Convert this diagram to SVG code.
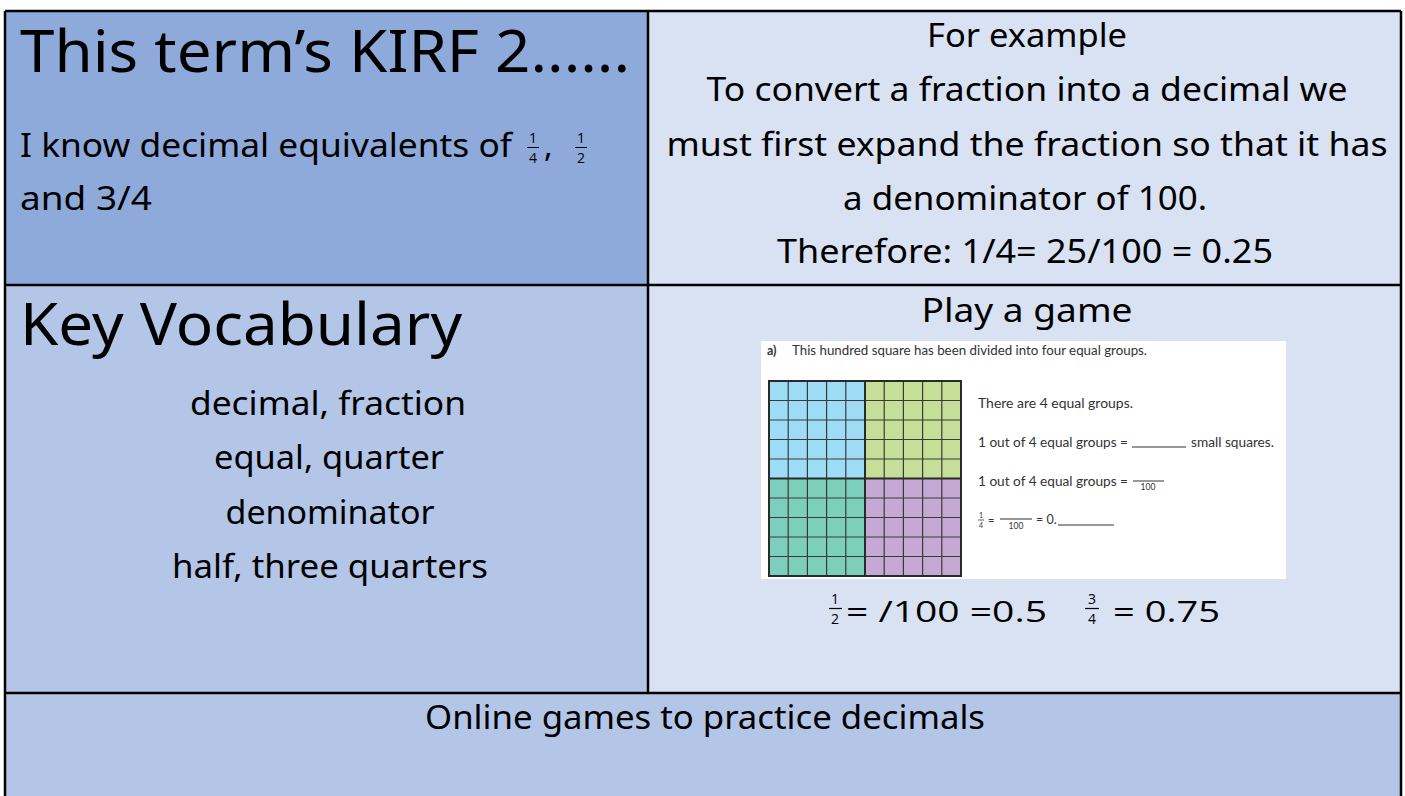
<svg xmlns="http://www.w3.org/2000/svg" width="1405" height="796" viewBox="0 0 1405 796">
  <style>
    .hand { font-family: "Noto Sans", "DejaVu Sans", sans-serif; fill: #000; }
    .sans { font-family: "Open Sans", "Noto Sans", sans-serif; fill: #000; }
    .ws { font-family: "Lato", "Open Sans", sans-serif; fill: #333; }
    .rule { stroke: #000; stroke-width: 2.5; fill: none; }
  </style>
  <rect width="1405" height="796" fill="#ffffff"/>

  <!-- Cell backgrounds -->
  <g id="cell-kirf">
    <rect x="5" y="11" width="643" height="274" fill="#8eaadb"/>
    <text class="hand" x="20" y="72" font-size="58" textLength="610" lengthAdjust="spacingAndGlyphs">This term’s KIRF 2......</text>
    <text class="hand" x="20" y="157" font-size="32" textLength="492" lengthAdjust="spacingAndGlyphs">I know decimal equivalents of</text>
    <!-- stacked quarter -->
    <text class="sans" x="533" y="143" font-size="14" text-anchor="middle">1</text>
    <line x1="527" y1="147.5" x2="539" y2="147.5" stroke="#000" stroke-width="1"/>
    <text class="sans" x="533" y="163" font-size="14" text-anchor="middle">4</text>
    <text class="hand" x="544" y="157" font-size="32">,</text>
    <!-- stacked half -->
    <text class="sans" x="581" y="143" font-size="14" text-anchor="middle">1</text>
    <line x1="575" y1="147.5" x2="587" y2="147.5" stroke="#000" stroke-width="1"/>
    <text class="sans" x="581" y="163" font-size="14" text-anchor="middle">2</text>
    <text class="hand" x="20" y="210" font-size="32" textLength="132" lengthAdjust="spacingAndGlyphs">and 3/4</text>
  </g>

  <g id="cell-example">
    <rect x="648" y="11" width="753" height="274" fill="#d9e2f3"/>
    <text class="hand" x="1027" y="47" font-size="32" text-anchor="middle" textLength="200" lengthAdjust="spacingAndGlyphs">For example</text>
    <text class="hand" x="1027" y="101" font-size="32" text-anchor="middle" textLength="641" lengthAdjust="spacingAndGlyphs">To convert a fraction into a decimal we</text>
    <text class="hand" x="1027" y="156" font-size="32" text-anchor="middle" textLength="721" lengthAdjust="spacingAndGlyphs">must first expand the fraction so that it has</text>
    <text class="hand" x="1025" y="210" font-size="32" text-anchor="middle" textLength="364" lengthAdjust="spacingAndGlyphs">a denominator of 100.</text>
    <text class="hand" x="1025" y="263" font-size="32" text-anchor="middle" textLength="496" lengthAdjust="spacingAndGlyphs">Therefore: 1/4= 25/100 = 0.25</text>
  </g>

  <g id="cell-vocabulary">
    <rect x="5" y="285" width="643" height="408" fill="#b4c6e7"/>
    <text class="hand" x="20" y="345" font-size="58" textLength="442" lengthAdjust="spacingAndGlyphs">Key Vocabulary</text>
    <text class="hand" x="328" y="415" font-size="32" text-anchor="middle" textLength="276" lengthAdjust="spacingAndGlyphs">decimal, fraction</text>
    <text class="hand" x="329" y="469" font-size="32" text-anchor="middle" textLength="230" lengthAdjust="spacingAndGlyphs">equal, quarter</text>
    <text class="hand" x="330" y="524" font-size="32" text-anchor="middle" textLength="209" lengthAdjust="spacingAndGlyphs">denominator</text>
    <text class="hand" x="330" y="578" font-size="32" text-anchor="middle" textLength="316" lengthAdjust="spacingAndGlyphs">half, three quarters</text>
  </g>

  <g id="cell-game">
    <rect x="648" y="285" width="753" height="408" fill="#d9e2f3"/>
    <text class="hand" x="1027" y="322" font-size="32" text-anchor="middle" textLength="211" lengthAdjust="spacingAndGlyphs">Play a game</text>

    <!-- worksheet panel -->
    <g id="worksheet">
      <rect x="761" y="341" width="525" height="238" fill="#ffffff"/>
      <text class="ws" x="767" y="355" font-size="12.5" font-weight="bold">a)</text>
      <text class="ws" x="792" y="355" font-size="12.5" textLength="355" lengthAdjust="spacingAndGlyphs">This hundred square has been divided into four equal groups.</text>

      <!-- hundred square -->
      <rect x="769" y="381" width="96" height="97.5" fill="#9edcf5"/>
      <rect x="865" y="381" width="96" height="97.5" fill="#c5de98"/>
      <rect x="769" y="478.5" width="96" height="97.5" fill="#7ccfbc"/>
      <rect x="865" y="478.5" width="96" height="97.5" fill="#c6a8d5"/>
      <path stroke="#3a3a3a" stroke-width="1.2" fill="none" d="M788.2 381V576M807.4 381V576M826.6 381V576M845.8 381V576M884.2 381V576M903.4 381V576M922.6 381V576M941.8 381V576M769 400.5H961M769 420H961M769 439.5H961M769 459H961M769 498H961M769 517.5H961M769 537H961M769 556.5H961"/>
      <path stroke="#2a2a2a" stroke-width="2" fill="none" d="M865 381V576M769 478.5H961"/>
      <rect x="769" y="381" width="192" height="195" stroke="#2a2a2a" stroke-width="2" fill="none"/>

      <text class="ws" x="978" y="408" font-size="12.5" textLength="155" lengthAdjust="spacingAndGlyphs">There are 4 equal groups.</text>
      <text class="ws" x="978" y="447" font-size="12.5" textLength="150" lengthAdjust="spacingAndGlyphs">1 out of 4 equal groups =</text>
      <line x1="1132" y1="447" x2="1186" y2="447" stroke="#333" stroke-width="1"/>
      <text class="ws" x="1191" y="447" font-size="12.5" textLength="83" lengthAdjust="spacingAndGlyphs">small squares.</text>
      <text class="ws" x="978" y="486" font-size="12.5" textLength="150" lengthAdjust="spacingAndGlyphs">1 out of 4 equal groups =</text>
      <line x1="1133" y1="481" x2="1164" y2="481" stroke="#333" stroke-width="1"/>
      <text class="ws" x="1148" y="490" font-size="8.5" text-anchor="middle">100</text>
      <text class="ws" x="981" y="518" font-size="7" text-anchor="middle">1</text>
      <line x1="978" y1="520" x2="984" y2="520" stroke="#333" stroke-width="0.8"/>
      <text class="ws" x="981" y="528" font-size="7" text-anchor="middle">4</text>
      <text class="ws" x="988" y="524" font-size="11">=</text>
      <line x1="1000" y1="519" x2="1032" y2="519" stroke="#333" stroke-width="1"/>
      <text class="ws" x="1016" y="529" font-size="8.5" text-anchor="middle">100</text>
      <text class="ws" x="1036" y="524" font-size="12.5">= 0.</text>
      <line x1="1058" y1="525" x2="1114" y2="525" stroke="#333" stroke-width="1"/>
    </g>

    <!-- answers line -->
    <text class="sans" x="835" y="604" font-size="14" text-anchor="middle">1</text>
    <line x1="829" y1="608.5" x2="842" y2="608.5" stroke="#000" stroke-width="1.2"/>
    <text class="sans" x="835" y="624" font-size="14" text-anchor="middle">2</text>
    <text class="sans" x="846" y="622" font-size="30" textLength="201" lengthAdjust="spacingAndGlyphs">= /100 =0.5</text>
    <text class="sans" x="1092" y="604" font-size="14" text-anchor="middle">3</text>
    <line x1="1085" y1="608.5" x2="1099" y2="608.5" stroke="#000" stroke-width="1.2"/>
    <text class="sans" x="1092" y="624" font-size="14" text-anchor="middle">4</text>
    <text class="sans" x="1113" y="622" font-size="30" textLength="107" lengthAdjust="spacingAndGlyphs">= 0.75</text>
  </g>

  <g id="cell-online">
    <rect x="5" y="693" width="1396" height="110" fill="#b4c6e7"/>
    <text class="hand" x="705" y="729" font-size="32" text-anchor="middle" textLength="560" lengthAdjust="spacingAndGlyphs">Online games to practice decimals</text>
  </g>

  <!-- table rules -->
  <g id="rules">
    <path class="rule" d="M5 11V796M1401 11V796M5 11H1401M648 11V693M5 285H1401M5 693H1401"/>
  </g>
</svg>
